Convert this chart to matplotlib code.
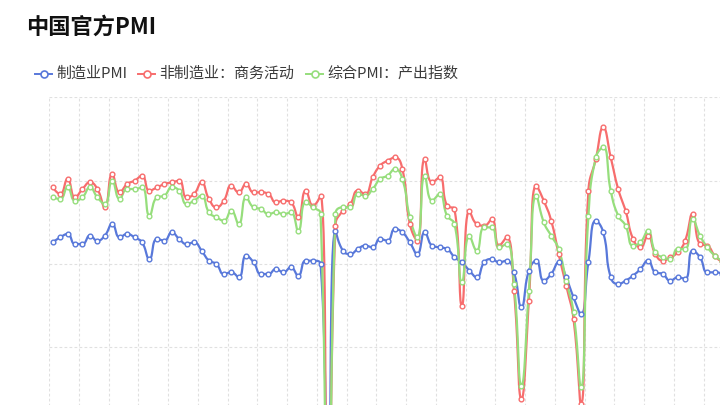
import numpy as np
import matplotlib
matplotlib.use("Agg")
import matplotlib.pyplot as plt
from matplotlib.lines import Line2D

plt.rcParams['font.family'] = ['Noto Sans CJK SC', 'DejaVu Sans']

# ---- data (monthly, Jan 2017 .. Aug 2024) ----
start_year, start_month = 2017, 1
title = "中国官方PMI"
series_names = ["制造业PMI", "非制造业：商务活动", "综合PMI：产出指数"]

manufacturing = [
    51.3, 51.6, 51.8, 51.2, 51.2, 51.7, 51.4, 51.7, 52.4, 51.6, 51.8, 51.6,
    51.3, 50.3, 51.5, 51.4, 51.9, 51.5, 51.2, 51.3, 50.8, 50.2, 50.0, 49.4,
    49.5, 49.2, 50.5, 50.1, 49.4, 49.4, 49.7, 49.5, 49.8, 49.3, 50.2, 50.2,
    50.0, 35.7, 52.0, 50.8, 50.6, 50.9, 51.1, 51.0, 51.5, 51.4, 52.1, 51.9,
    51.3, 50.6, 51.9, 51.1, 51.0, 50.9, 50.4, 50.1, 49.6, 49.2, 50.1, 50.3,
    50.1, 50.2, 49.5, 47.4, 49.6, 50.2, 49.0, 49.4, 50.1, 49.2, 48.0, 47.0,
    50.1, 52.6, 51.9, 49.2, 48.8, 49.0, 49.3, 49.7, 50.2, 49.5, 49.4, 49.0,
    49.2, 49.1, 50.8, 50.4, 49.5, 49.5, 49.4, 49.1,
]
non_manufacturing = [
    54.6, 54.2, 55.1, 54.0, 54.5, 54.9, 54.5, 53.4, 55.4, 54.3, 54.8, 55.0,
    55.3, 54.4, 54.6, 54.8, 54.9, 55.0, 54.0, 54.2, 54.9, 53.9, 53.4, 53.8,
    54.7, 54.3, 54.8, 54.3, 54.3, 54.2, 53.7, 53.8, 53.7, 52.8, 54.4, 53.5,
    54.1, 29.6, 52.3, 53.2, 53.6, 54.4, 54.2, 55.2, 55.9, 56.2, 56.4, 55.7,
    52.4, 51.4, 56.3, 54.9, 55.2, 53.5, 53.3, 47.5, 53.2, 52.4, 52.3, 52.7,
    51.1, 51.6, 48.4, 41.9, 47.8, 54.7, 53.8, 52.6, 50.6, 48.7, 46.7, 41.6,
    54.4, 56.3, 58.2, 56.4, 54.5, 53.2, 51.5, 51.0, 51.7, 50.6, 50.2, 50.4,
    50.7, 51.4, 53.0, 51.2, 51.1, 50.5, 50.2, 50.3,
]
composite = [
    54.0, 53.9, 54.6, 53.8, 54.0, 54.6, 54.0, 53.6, 55.0, 53.9, 54.5, 54.5,
    54.6, 52.9, 54.0, 54.1, 54.6, 54.4, 53.6, 53.8, 54.1, 53.1, 52.8, 52.6,
    53.2, 52.4, 54.0, 53.4, 53.3, 53.0, 53.1, 53.0, 53.1, 52.0, 53.7, 53.4,
    53.0, 28.9, 53.0, 53.4, 53.4, 54.2, 54.1, 54.5, 55.1, 55.3, 55.7, 55.1,
    52.8, 51.6, 55.3, 53.8, 54.2, 52.9, 52.4, 48.9, 51.7, 50.8, 52.2, 52.2,
    51.0, 51.2, 48.8, 42.7, 48.4, 54.1, 52.5, 51.7, 50.9, 49.0, 47.1, 42.6,
    52.9, 56.4, 57.0, 54.4, 52.9, 52.3, 51.1, 51.3, 52.0, 50.7, 50.4, 50.3,
    50.9, 50.9, 52.7, 51.7, 51.0, 50.5, 50.2, 50.1,
]
months = [f"{start_year + (start_month - 1 + i) // 12}-{(start_month - 1 + i) % 12 + 1:02d}"
          for i in range(len(manufacturing))]

colors = ["#5878da", "#f76d6d", "#96de7c"]

# ---- layout (pixels) ----
W, H = 720, 405
PX_PER_CAT = 7.44
PX_PER_UNIT = 16.66
Y_MIN, Y_MAX = 20, 60
N = len(months)
left_px, top_px = 49, 97.4
width_px = N * PX_PER_CAT
height_px = (Y_MAX - Y_MIN) * PX_PER_UNIT

fig = plt.figure(figsize=(W / 100, H / 100), dpi=100)
fig.patch.set_facecolor("white")
ax = fig.add_axes([left_px / W, (H - top_px - height_px) / H, width_px / W, height_px / H])
ax.set_xlim(-0.5, N - 0.5)
ax.set_ylim(Y_MIN, Y_MAX)
for s in ax.spines.values():
    s.set_visible(False)
ax.set_xticks([])
ax.set_yticks([])

# grid lines
for k in range(0, N + 1, 4):
    ax.axvline(k - 0.5, color="#e0e0e0", lw=0.8, ls=(0, (2.5, 2)), zorder=0)
for v in range(Y_MIN, Y_MAX + 1, 5):
    ax.axhline(v, color="#e0e0e0", lw=0.8, ls=(0, (2.5, 2)), zorder=0)


def smooth_curve(xv, yv, smooth=0.5, samples=16):
    # echarts-like bezier smoothing, computed in pixel space
    px = np.asarray(xv, float) * PX_PER_CAT
    py = np.asarray(yv, float) * PX_PER_UNIT
    n = len(px)
    outx, outy = [px[0]], [py[0]]
    cp0x, cp0y = px[0], py[0]
    t = np.linspace(0, 1, samples + 1)[1:]
    for i in range(1, n):
        x, y = px[i], py[i]
        prevx, prevy = px[i - 1], py[i - 1]
        if i == n - 1:
            cp1x, cp1y = x, y
            ncx, ncy = x, y
        else:
            nx, ny = px[i + 1], py[i + 1]
            vx, vy = nx - prevx, ny - prevy
            lp = np.hypot(x - prevx, y - prevy)
            ln = np.hypot(nx - x, ny - y)
            r = ln / (ln + lp)
            ncx = x + vx * smooth * r
            ncy = y + vy * smooth * r
            ncx = min(ncx, max(nx, x)); ncy = min(ncy, max(ny, y))
            ncx = max(ncx, min(nx, x)); ncy = max(ncy, min(ny, y))
            vx, vy = ncx - x, ncy - y
            cp1x = x - vx * lp / ln
            cp1y = y - vy * lp / ln
            cp1x = min(cp1x, max(prevx, x)); cp1y = min(cp1y, max(prevy, y))
            cp1x = max(cp1x, min(prevx, x)); cp1y = max(cp1y, min(prevy, y))
            vx, vy = x - cp1x, y - cp1y
            ncx = x + vx * ln / lp
            ncy = y + vy * ln / lp
        bx = ((1 - t) ** 3 * prevx + 3 * (1 - t) ** 2 * t * cp0x
              + 3 * (1 - t) * t ** 2 * cp1x + t ** 3 * x)
        by = ((1 - t) ** 3 * prevy + 3 * (1 - t) ** 2 * t * cp0y
              + 3 * (1 - t) * t ** 2 * cp1y + t ** 3 * y)
        outx.extend(bx); outy.extend(by)
        cp0x, cp0y = ncx, ncy
    return np.array(outx) / PX_PER_CAT, np.array(outy) / PX_PER_UNIT


xidx = np.arange(N)
for vals, c in zip([manufacturing, non_manufacturing, composite], colors):
    sx, sy = smooth_curve(xidx, vals)
    ax.plot(sx, sy, color=c, lw=1.6, solid_capstyle="round",
            solid_joinstyle="round", zorder=2)
    ax.plot(xidx, vals, ls="none", marker="o", ms=3.4, mfc="white",
            mec=c, mew=1.0, zorder=3)

# title
fig.text(26 / W, 1 - 27.5 / H, title, fontsize=16, fontweight="bold",
         color="#111111", ha="left", va="center")

# legend (manual)
leg_y = 1 - 73.5 / H
icon_x = [35, 138, 306]
for name, c, ix in zip(series_names, colors, icon_x):
    fig.add_artist(Line2D([ix / W, (ix + 17) / W], [leg_y, leg_y], color=c, lw=1.4,
                          transform=fig.transFigure))
    fig.add_artist(Line2D([(ix + 8.5) / W], [leg_y], marker="o", ms=5, mfc="white",
                          mec=c, mew=1.2, transform=fig.transFigure))
    fig.text((ix + 21) / W, leg_y, name, fontsize=10.8, color="#3a3a3a",
             ha="left", va="center")

fig.savefig("out.png", dpi=100, facecolor="white")
